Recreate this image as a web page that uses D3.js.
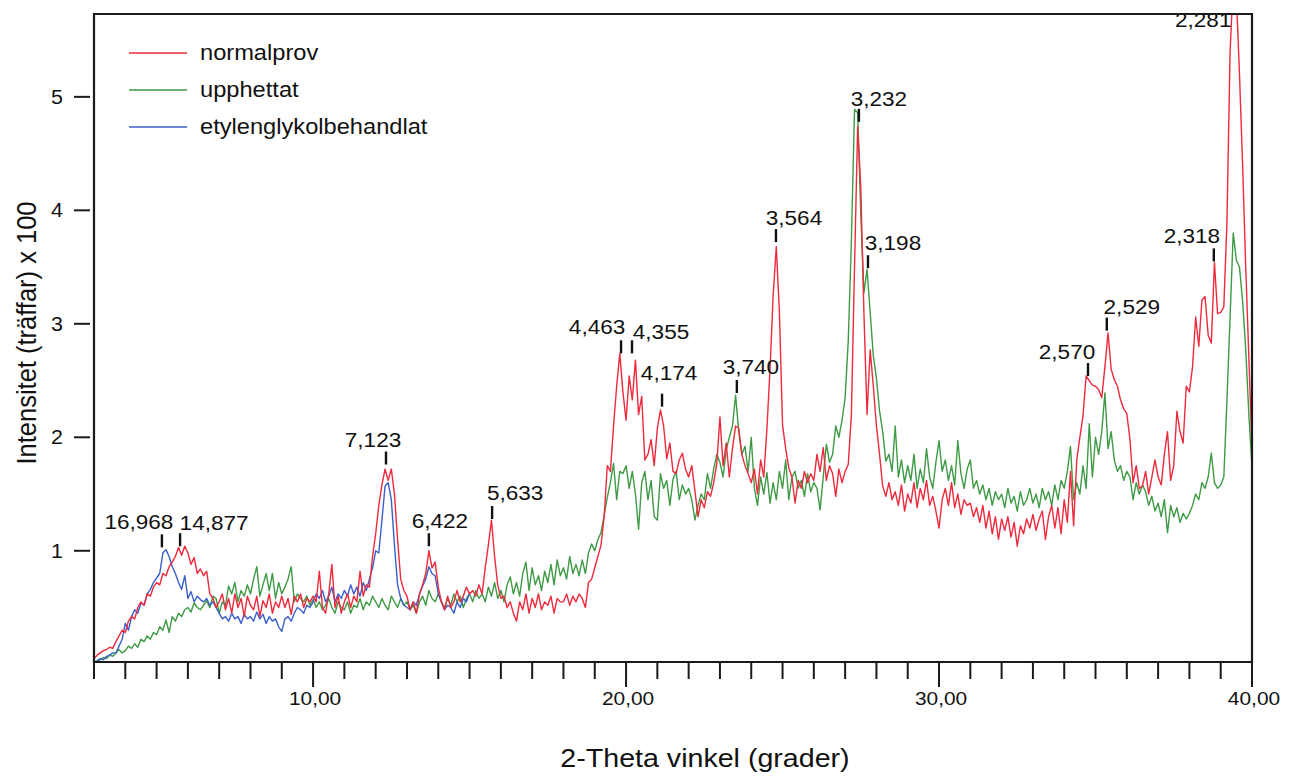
<!DOCTYPE html>
<html>
<head>
<meta charset="utf-8">
<script src="https://cdn.jsdelivr.net/npm/d3@7/dist/d3.min.js"></script>
<style>
  html, body { margin: 0; padding: 0; background: #ffffff; }
  svg { display: block; }
  text { font-family: "Liberation Sans", Arial, Helvetica, sans-serif; fill: #111; }
</style>
</head>
<body>
<svg id="chart" width="1300" height="776"></svg>
<script>
// ---------------- data ----------------
// sampling grid of the scans (2-theta, degrees)
const thetaStart = 3.0;
const thetaStep = 0.1;

// normalprov (red), 3.0 .. 40.0
const normalprov = [
  0.05,0.08,0.10,0.12,0.13,0.15,0.14,0.20,0.25,0.30,
  0.28,0.38,0.42,0.40,0.50,0.55,0.52,0.62,0.60,0.68,
  0.72,0.70,0.80,0.78,0.86,0.90,0.95,1.03,0.96,1.04,
  0.98,0.88,0.94,0.80,0.84,0.78,0.82,0.62,0.58,0.50,
  0.55,0.62,0.48,0.58,0.45,0.62,0.50,0.58,0.42,0.60,
  0.52,0.48,0.60,0.42,0.56,0.50,0.62,0.45,0.55,0.50,
  0.60,0.50,0.58,0.44,0.60,0.55,0.62,0.50,0.58,0.55,
  0.60,0.55,0.82,0.50,0.45,0.62,0.88,0.50,0.60,0.45,
  0.55,0.62,0.50,0.60,0.55,0.82,0.60,0.70,0.68,0.95,
  1.15,1.40,1.58,1.72,1.62,1.72,1.50,1.10,0.75,0.65,
  0.60,0.48,0.55,0.45,0.62,0.70,0.80,1.00,0.85,0.90,
  0.68,0.55,0.48,0.60,0.50,0.55,0.65,0.55,0.60,0.68,
  0.62,0.65,0.60,0.70,0.62,0.85,1.05,1.27,0.95,0.70,
  0.58,0.60,0.50,0.55,0.45,0.38,0.55,0.48,0.62,0.45,
  0.58,0.50,0.62,0.48,0.55,0.52,0.60,0.45,0.58,0.55,
  0.55,0.62,0.52,0.60,0.55,0.62,0.58,0.50,0.72,0.75,
  0.85,0.95,1.05,1.30,1.75,1.70,2.10,2.45,2.74,2.40,
  2.15,2.54,2.33,2.68,2.20,2.36,1.80,1.85,1.98,1.75,
  2.08,2.24,2.10,1.81,1.95,1.70,1.68,1.80,1.86,1.72,
  1.65,1.75,1.53,1.30,1.45,1.38,1.52,1.48,1.60,1.77,
  2.18,1.75,1.95,1.65,1.90,2.10,2.08,1.85,1.75,1.68,
  1.60,1.72,1.50,1.80,1.65,2.07,2.60,3.25,3.68,3.10,
  2.11,1.90,1.73,1.65,1.42,1.62,1.55,1.70,1.60,1.68,
  1.62,1.85,1.70,1.91,1.62,1.75,1.68,1.48,1.72,1.60,
  1.70,1.76,2.20,3.50,4.74,4.20,3.10,2.20,2.77,2.45,
  2.10,1.85,1.57,1.48,1.60,1.45,1.52,1.40,1.58,1.35,
  1.50,1.42,1.60,1.38,1.55,1.45,1.62,1.40,1.48,1.35,
  1.20,1.45,1.55,1.40,1.60,1.38,1.50,1.32,1.45,1.40,
  1.42,1.30,1.38,1.25,1.40,1.20,1.35,1.15,1.30,1.10,
  1.28,1.18,1.30,1.12,1.25,1.04,1.22,1.15,1.28,1.20,
  1.32,1.18,1.28,1.35,1.10,1.30,1.40,1.20,1.38,1.15,
  1.45,1.25,1.70,1.22,1.80,2.00,2.19,2.54,2.50,2.46,
  2.45,2.42,2.35,2.62,2.92,2.60,2.51,2.45,2.33,2.25,
  2.21,1.98,1.60,1.75,1.55,1.57,1.70,1.50,1.65,1.80,
  1.65,1.58,1.85,2.05,1.62,1.75,2.23,2.05,1.95,2.45,
  2.40,2.62,3.06,2.80,3.21,3.24,2.90,2.83,3.54,3.09,
  3.10,3.15,3.90,5.40,6.00,5.90,5.20,4.40,3.50,2.70,
  1.90
];

// upphettat (green), 3.0 .. 40.0
const upphettat = [
  0.02,0.03,0.04,0.06,0.05,0.08,0.07,0.10,0.13,0.10,
  0.12,0.16,0.14,0.18,0.15,0.22,0.20,0.25,0.22,0.28,
  0.26,0.33,0.30,0.39,0.28,0.42,0.38,0.45,0.42,0.48,
  0.50,0.46,0.54,0.50,0.48,0.52,0.56,0.50,0.60,0.58,
  0.45,0.55,0.52,0.69,0.62,0.72,0.55,0.65,0.60,0.70,
  0.62,0.75,0.86,0.60,0.70,0.80,0.65,0.80,0.58,0.72,
  0.62,0.68,0.75,0.86,0.55,0.62,0.58,0.55,0.60,0.52,
  0.57,0.50,0.55,0.48,0.52,0.58,0.50,0.45,0.55,0.50,
  0.48,0.55,0.45,0.52,0.50,0.58,0.48,0.55,0.52,0.60,
  0.55,0.50,0.58,0.52,0.48,0.60,0.55,0.50,0.58,0.52,
  0.55,0.48,0.52,0.45,0.55,0.60,0.52,0.65,0.58,0.55,
  0.62,0.55,0.50,0.58,0.52,0.62,0.55,0.60,0.50,0.58,
  0.62,0.55,0.65,0.58,0.62,0.55,0.68,0.60,0.72,0.58,
  0.65,0.55,0.70,0.77,0.62,0.72,0.60,0.80,0.90,0.65,
  0.85,0.70,0.78,0.65,0.82,0.72,0.88,0.70,0.92,0.78,
  0.85,0.75,0.95,0.80,0.88,0.78,0.92,0.80,0.98,1.06,
  1.00,1.10,1.16,1.31,1.47,1.60,1.77,1.45,1.70,1.68,
  1.75,1.55,1.70,1.50,1.19,1.60,1.70,1.45,1.62,1.30,
  1.27,1.68,1.55,1.62,1.40,1.63,1.70,1.45,1.58,1.50,
  1.55,1.45,1.27,1.40,1.50,1.45,1.68,1.55,1.72,1.85,
  1.78,1.65,1.89,2.00,2.10,2.37,2.05,1.85,1.92,1.70,
  2.00,1.55,1.40,1.65,1.50,1.69,1.42,1.60,1.45,1.70,
  1.55,1.80,1.45,1.65,1.70,1.55,1.62,1.48,1.68,1.52,
  1.60,1.55,1.36,1.65,1.94,1.78,1.85,2.10,2.00,2.15,
  2.35,2.85,3.73,4.89,4.86,3.97,3.27,3.48,3.10,2.72,
  2.52,2.23,2.05,1.79,1.85,1.70,2.10,1.65,1.80,1.60,
  1.75,1.62,1.85,1.55,1.72,1.60,1.90,1.65,1.55,1.78,
  1.97,1.70,1.80,1.62,1.75,1.58,1.97,1.68,1.55,1.72,
  1.80,1.55,1.62,1.50,1.58,1.45,1.55,1.40,1.52,1.45,
  1.50,1.38,1.55,1.42,1.48,1.35,1.52,1.40,1.45,1.55,
  1.42,1.50,1.38,1.55,1.45,1.52,1.40,1.58,1.45,1.62,
  1.55,1.70,1.92,1.45,1.60,1.50,1.75,1.55,2.12,1.65,
  2.00,1.85,2.05,2.39,1.90,2.05,1.80,1.70,1.75,1.62,
  1.70,1.65,1.45,1.60,1.50,1.58,1.52,1.40,1.48,1.35,
  1.42,1.30,1.45,1.16,1.40,1.30,1.38,1.25,1.33,1.28,
  1.33,1.40,1.50,1.45,1.60,1.55,1.65,1.86,1.60,1.55,
  1.58,1.65,2.33,3.06,3.80,3.56,3.50,3.20,2.77,2.20,
  1.74
];

// etylenglykolbehandlat (blue), 3.0 .. 15.0
const etylenglykolbehandlat = [
  0.02,0.03,0.05,0.04,0.07,0.08,0.10,0.10,0.16,0.22,
  0.36,0.30,0.42,0.48,0.45,0.54,0.52,0.62,0.66,0.72,
  0.76,0.80,0.98,1.01,0.95,0.86,0.80,0.72,0.66,0.78,
  0.58,0.64,0.55,0.60,0.57,0.55,0.58,0.52,0.55,0.50,
  0.45,0.40,0.42,0.38,0.45,0.40,0.42,0.36,0.44,0.40,
  0.42,0.38,0.46,0.40,0.44,0.36,0.42,0.38,0.40,0.33,
  0.29,0.40,0.42,0.38,0.45,0.50,0.48,0.45,0.52,0.50,
  0.55,0.62,0.58,0.65,0.55,0.60,0.68,0.55,0.62,0.58,
  0.65,0.60,0.70,0.62,0.68,0.60,0.72,0.65,0.75,0.85,
  1.00,0.98,1.27,1.57,1.60,1.45,1.05,0.70,0.58,0.52,
  0.50,0.48,0.55,0.52,0.62,0.69,0.75,0.86,0.80,0.78,
  0.62,0.55,0.48,0.52,0.50,0.45,0.55,0.50,0.58,0.55,
  0.63
];

const seriesNames = ["normalprov", "upphettat", "etylenglykolbehandlat"];
const seriesColors = ["#ee2a3c", "#3f9a45", "#3b5fcc"];

// axis ticks
const yTicks = [1, 2, 3, 4, 5];
const xMajorTicks = [10, 20, 30, 40];
const xMajorLabels = ["10,00", "20,00", "30,00", "40,00"];
const xMinorTicks = d3.range(3, 41, 1);

// peak annotations (d-spacing labels): 2-theta and intensity of marker foot
const peakLabels = ["16,968","14,877","7,123","6,422","5,633","4,463","4,355","4,174","3,740","3,564","3,232","3,198","2,570","2,529","2,318","2,281"];
const peakTheta  = [5.17, 5.75, 12.33, 13.70, 15.72, 19.84, 20.19, 21.15, 23.54, 24.79, 27.44, 27.73, 34.76, 35.36, 38.78, 39.40];
const peakHeight = [1.03, 1.04, 1.76, 1.04, 1.28, 2.74, 2.74, 2.27, 2.39, 3.72, 4.78, 3.49, 2.54, 2.94, 3.55, 5.90];

// ---------------- layout ----------------
const plot = { left: 94, right: 1252, top: 14, bottom: 662 };
const labelDx = [-23, 34, -13, 11, 23, -24, 29, 7, 14, 18, 20, 25, -21, 25, -22, -30];
const labelDy = [-18, -16, -18, -18, -19, -19, -14, -27, -19, -17, -16, -18, -17, -17, -18, 32];
const hStretch = 1.1; // the original scan is slightly stretched horizontally

const svg = d3.select("#chart");

const x = d3.scaleLinear().domain([3, 40]).range([plot.left, plot.right]);
const y = d3.scaleLinear().domain([0.02, 5.73]).range([plot.bottom, plot.top]);

svg.append("defs").append("clipPath").attr("id", "plotclip")
  .append("rect")
  .attr("x", plot.left).attr("y", plot.top)
  .attr("width", plot.right - plot.left).attr("height", plot.bottom - plot.top);

// text helper: places text at (tx, ty) with horizontal stretch
function addText(parent, tx, ty, str, size, anchor) {
  return parent.append("text")
    .attr("transform", `translate(${tx},${ty}) scale(${hStretch},1)`)
    .attr("text-anchor", anchor || "start")
    .attr("font-size", size)
    .text(str);
}

const toPoints = arr => arr.map((v, i) => [thetaStart + i * thetaStep, v]);
const line = d3.line().x(d => x(d[0])).y(d => y(d[1]));

const g = svg.append("g").attr("clip-path", "url(#plotclip)");
const drawOrder = [
  { data: upphettat, color: seriesColors[1] },
  { data: etylenglykolbehandlat, color: seriesColors[2] },
  { data: normalprov, color: seriesColors[0] }
];
drawOrder.forEach(s => {
  g.append("path")
    .datum(toPoints(s.data))
    .attr("fill", "none")
    .attr("stroke", s.color)
    .attr("stroke-width", 1.4)
    .attr("stroke-linejoin", "round")
    .attr("d", line);
});

// peak markers & labels
const ann = svg.append("g");
peakLabels.forEach((lab, i) => {
  const px = x(peakTheta[i]);
  const py = y(peakHeight[i]);
  g.append("line")
    .attr("x1", px).attr("x2", px)
    .attr("y1", py).attr("y2", py - 13)
    .attr("stroke", "#111").attr("stroke-width", 2.4);
  addText(ann, px + labelDx[i], py + labelDy[i], lab, 20.5, "middle");
});

// frame
svg.append("path")
  .attr("d", `M${plot.left},${plot.bottom} L${plot.left},${plot.top} L${plot.right},${plot.top} L${plot.right},${plot.bottom} Z`)
  .attr("fill", "none")
  .attr("stroke", "#1a1a1a")
  .attr("stroke-width", 2.2);

// x axis ticks
const xAxisG = svg.append("g");
xAxisG.selectAll("line").data(xMinorTicks).enter().append("line")
  .attr("x1", d => x(d)).attr("x2", d => x(d))
  .attr("y1", plot.bottom)
  .attr("y2", d => xMajorTicks.includes(d) ? plot.bottom + 25 : plot.bottom + 17)
  .attr("stroke", "#1a1a1a").attr("stroke-width", 2);
xMajorTicks.forEach((t, i) => {
  addText(xAxisG, x(t) + 2, plot.bottom + 43, xMajorLabels[i], 19, "middle");
});

// y axis ticks
const yAxisG = svg.append("g");
yAxisG.selectAll("line").data(yTicks).enter().append("line")
  .attr("x1", plot.left - 20).attr("x2", plot.left - 4)
  .attr("y1", d => y(d)).attr("y2", d => y(d))
  .attr("stroke", "#1a1a1a").attr("stroke-width", 2);
yTicks.forEach(t => {
  addText(yAxisG, plot.left - 31, y(t) + 7, String(t), 19.5, "end");
});

// axis titles
addText(svg, 705, 767, "2-Theta vinkel (grader)", 26, "middle");
svg.append("text")
  .attr("transform", `translate(36,333) scale(${hStretch},1) rotate(-90)`)
  .attr("text-anchor", "middle")
  .attr("font-size", 25.5)
  .text("Intensitet (träffar) x 100");

// legend
const legend = svg.append("g");
seriesNames.forEach((name, i) => {
  const ly = 53 + i * 37;
  legend.append("line")
    .attr("x1", 129).attr("x2", 187)
    .attr("y1", ly).attr("y2", ly)
    .attr("stroke", seriesColors[i]).attr("stroke-width", 1.6);
  addText(legend, 200, ly + 7, name, 21.5, "start");
});
</script>
</body>
</html>
